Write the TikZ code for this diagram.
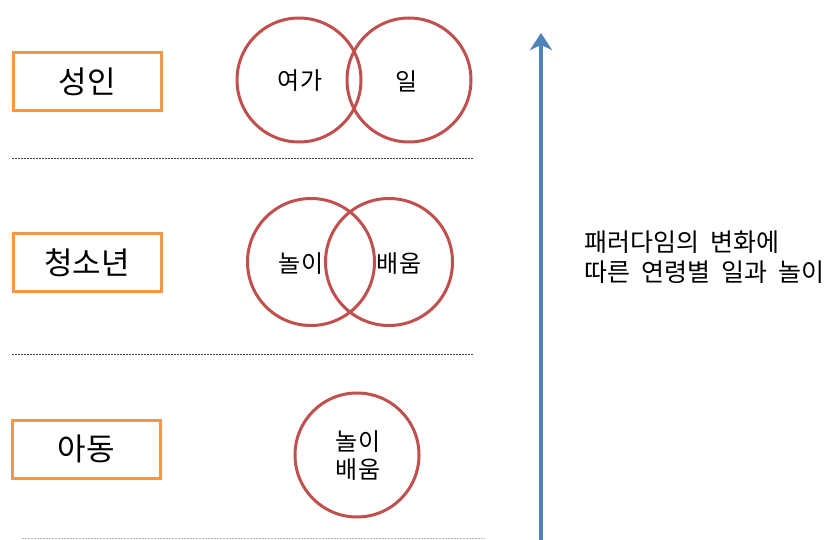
\documentclass[tikz,border=0pt]{standalone}
\usepackage{fontspec}
\newfontfamily\kr{Noto Sans CJK KR}
\newfontfamily\krw{Noto Sans CJK KR}[WordSpace=2]
\usetikzlibrary{arrows.meta}
\definecolor{boxorange}{HTML}{F79646}
\definecolor{circred}{HTML}{C0504D}
\definecolor{arrowblue}{HTML}{4F81BD}
\begin{document}
\begin{tikzpicture}[x=1pt,y=-1pt,
  agebox/.style={draw=boxorange,line width=3pt,fill=white,minimum width=148pt,minimum height=58pt,inner sep=0pt,font=\kr\fontsize{31}{34}\selectfont},
  venn/.style={draw=circred,line width=3pt,circle,minimum size=124pt,inner sep=0pt},
  vlabel/.style={font=\kr\fontsize{24}{28}\selectfont,inner sep=0pt},
  sep/.style={draw=black!75,line width=0.9pt,dash pattern=on 2pt off 1pt},
  sepl/.style={draw=black!30,line width=0.9pt,dash pattern=on 2pt off 1pt}]
\useasboundingbox (0,0) rectangle (828,540);
% separators
\coordinate (s1a) at (12,158); \coordinate (s1b) at (473,158);
\coordinate (s2a) at (12,354); \coordinate (s2b) at (473,354);
\coordinate (s3a) at (22,538); \coordinate (s3b) at (485,538);
\draw[sep] (s1a) -- (s1b);
\draw[sep] (s2a) -- (s2b);
\draw[sepl] (s3a) -- (s3b);
% boxes
\node[agebox] (adult) at (87,82) {성인};
\node[agebox] (teen) at (87,263) {청소년};
\node[agebox] (child) at (86,449) {아동};
% circles
\node[venn] (c1) at (299,80) {};
\node[venn] (c2) at (409,80) {};
\node[vlabel] (t1) at (300,81) {여가};
\node[vlabel] (t2) at (407,81) {일};
\node[venn,minimum size=127pt] (c3) at (311,262) {};
\node[venn,minimum size=127pt] (c4) at (389,262) {};
\node[vlabel] (t3) at (301,264) {놀이};
\node[vlabel] (t4) at (399,264) {배움};
\node[venn] (c5) at (357,455) {};
\node[vlabel,align=center,font=\kr\fontsize{24}{28}\selectfont] (t5) at (358,456) {놀이\\배움};
% arrow
\coordinate (abot) at (541,541);
\coordinate (atop) at (541,33);
\draw[arrowblue,line width=4pt,-{Stealth[length=17pt,width=22pt,inset=5pt]}] (abot) -- (atop);
% side text
\node[anchor=west,align=left,inner sep=0pt,font=\krw\fontsize{25}{30}\selectfont] (side) at (584,257) {패러다임의 변화에\\따른 연령별 일과 놀이};
\end{tikzpicture}
\end{document}
